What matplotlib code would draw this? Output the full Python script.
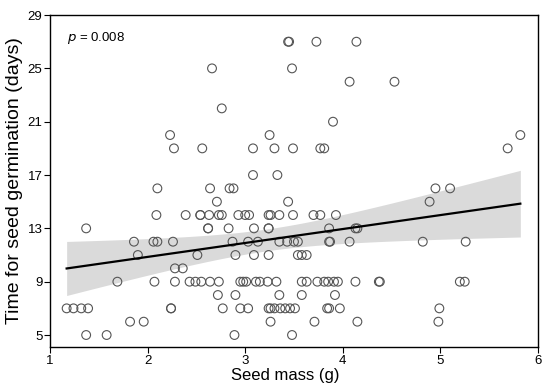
import numpy as np
import matplotlib.pyplot as plt

plt.rcParams['font.family'] = ['Liberation Sans', 'DejaVu Sans']

# germination time (days) and the seed masses (g) observed at each time
days = [27, 25, 24, 22, 21, 20, 19, 17, 16, 15, 14, 13, 12, 11, 10, 9, 8, 7, 6, 5]
mass_by_day = [
    [3.44, 3.45, 3.73, 4.14],
    [2.66, 3.48],
    [4.07, 4.53],
    [2.76],
    [3.90],
    [2.23, 3.25, 5.82],
    [2.27, 2.56, 3.08, 3.30, 3.49, 3.77, 3.81, 5.69],
    [3.08, 3.33],
    [2.10, 2.64, 2.84, 2.88, 4.95, 5.10],
    [2.71, 3.44, 4.89],
    [2.09, 2.39, 2.54, 2.54, 2.63, 2.73, 2.76, 2.93, 3.00, 3.04, 3.24, 3.26,
     3.35, 3.49, 3.70, 3.77, 3.93],
    [1.37, 2.62, 2.62, 2.83, 3.09, 3.24, 3.24, 3.86, 4.13, 4.15],
    [1.86, 2.06, 2.10, 2.26, 2.87, 3.03, 3.13, 3.35, 3.43, 3.50, 3.54, 3.86,
     3.87, 4.07, 4.82, 5.26],
    [1.90, 2.51, 2.90, 3.09, 3.24, 3.54, 3.58, 3.63],
    [2.28, 2.36],
    [1.69, 2.07, 2.28, 2.43, 2.49, 2.55, 2.64, 2.73, 2.95, 2.98, 3.01, 3.11,
     3.15, 3.23, 3.32, 3.58, 3.63, 3.74, 3.81, 3.85, 3.91, 3.95, 4.13, 4.37,
     4.38, 5.20, 5.25],
    [2.72, 2.90, 3.35, 3.58, 3.92],
    [1.17, 1.24, 1.32, 1.39, 2.24, 2.24, 2.77, 2.95, 3.03, 3.24, 3.26, 3.30,
     3.36, 3.41, 3.46, 3.51, 3.84, 3.86, 3.97, 4.99],
    [1.82, 1.96, 3.26, 3.71, 4.15, 4.98],
    [1.37, 1.58, 2.89, 3.48],
]
p_value = 0.008
x_ticks = [1, 2, 3, 4, 5, 6]
y_ticks = [5, 9, 13, 17, 21, 25, 29]

x = np.array([m for ms in mass_by_day for m in ms])
y = np.array([d for d, ms in zip(days, mass_by_day) for _ in ms], dtype=float)

# linear fit with 95% confidence band
n = len(x)
slope, intercept = np.polyfit(x, y, 1)
resid = y - (slope * x + intercept)
s = np.sqrt(np.sum(resid ** 2) / (n - 2))
xs = np.linspace(x.min(), x.max(), 200)
ys = slope * xs + intercept
se = s * np.sqrt(1 / n + (xs - x.mean()) ** 2 / np.sum((x - x.mean()) ** 2))
ci = 1.976 * se

fig = plt.figure(figsize=(5.5, 3.86), dpi=100)
ax = fig.add_axes([0.091, 0.101, 0.887, 0.86])

ax.fill_between(xs, ys - ci, ys + ci, color='#dadada', lw=0, zorder=1)
ax.plot(xs, ys, color='black', lw=1.6, zorder=3)
ax.scatter(x, y, s=40, facecolors='none', edgecolors='#555555',
           linewidths=0.8, zorder=2)

ax.set_xlim(1, 6)
ax.set_ylim(4.1, 29)
ax.set_xticks(x_ticks)
ax.set_yticks(y_ticks)
ax.tick_params(labelsize=9.5, length=4, width=0.8, pad=1.5)
ax.set_xlabel('Seed mass (g)', fontsize=12, labelpad=0)
ax.xaxis.set_label_coords(0.482, -0.062, transform=ax.transAxes)
ax.xaxis.label.set_va('top')
ax.set_ylabel('Time for seed germination (days)', fontsize=14, labelpad=3)
for sp in ax.spines.values():
    sp.set_linewidth(1.0)

ax.text(0.035, 0.93, '$\\it{p}$' + f' = {p_value:.3f}',
        transform=ax.transAxes, fontsize=9.5, va='center')

fig.savefig('out.png', dpi=100)
